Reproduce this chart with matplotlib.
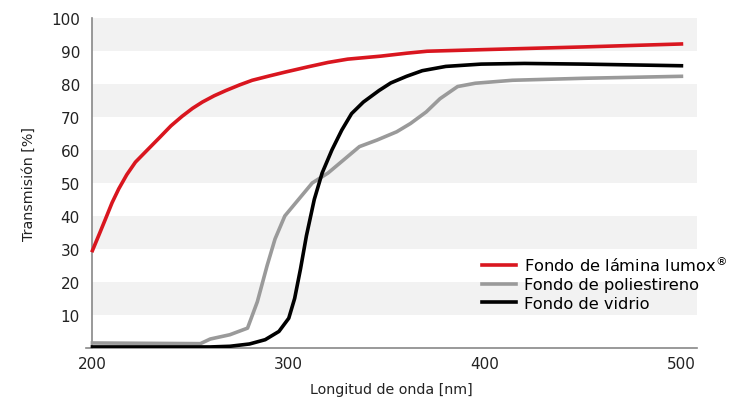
import matplotlib
matplotlib.use("Agg")
import matplotlib.pyplot as plt

# wavelength [nm] / transmission [%]
red_x = [200, 203.5, 206.6, 210, 213.4, 217.5, 221.9, 228, 233.8, 240, 245.7, 251,
         256, 262, 268, 275, 281.4, 290, 298.3, 310, 320, 330, 346.7, 360, 370.5,
         400, 450, 500]
red_y = [29.5, 34.5, 39, 44, 48.2, 52.5, 56.3, 60, 63.5, 67.3, 70.2, 72.6,
         74.5, 76.4, 78, 79.7, 81.1, 82.4, 83.6, 85.2, 86.5, 87.5, 88.4, 89.3, 89.9,
         90.4, 91.2, 92.1]

grey_x = [200, 255, 260, 270, 279, 284, 289, 293, 298, 305, 312, 320, 328, 336,
          345, 355, 362, 370, 377, 386, 395, 414, 450, 500]
grey_y = [1.5, 1.3, 2.7, 4, 6, 14, 25, 33, 40, 45, 50, 53, 57, 61,
          63, 65.5, 68, 71.5, 75.5, 79.2, 80.2, 81.1, 81.7, 82.3]

black_x = [200, 260, 270, 280, 288, 295, 300, 303, 306, 309, 313, 317, 322, 327,
           332, 338, 346, 352, 360, 368, 380, 398, 420, 450, 500]
black_y = [0.3, 0.3, 0.5, 1.2, 2.5, 5, 9, 15, 24, 34, 45, 53, 60, 66,
           71, 74.5, 78, 80.3, 82.3, 84, 85.3, 86, 86.2, 86, 85.5]

labels = [r"Fondo de lámina lumox$^{\mathregular{®}}$", "Fondo de poliestireno",
          "Fondo de vidrio"]
y_ticks = [10, 20, 30, 40, 50, 60, 70, 80, 90, 100]
x_ticks = [200, 300, 400, 500]

fig = plt.figure(figsize=(7.44, 4.02), dpi=100)
ax = fig.add_axes([0.115, 0.132, 0.822, 0.821])

x_lo, x_hi = 196.5, 508

# alternating light bands
for lo in range(10, 100, 20):
    ax.barh(lo, x_hi - 200, left=200, height=10, align="edge",
            color="#f2f2f2", zorder=0)

ax.plot(red_x, red_y, color="#d9161f", lw=2.6, label=labels[0], zorder=3)
ax.plot(grey_x, grey_y, color="#9a9a9a", lw=2.6, label=labels[1], zorder=3)
ax.plot(black_x, black_y, color="black", lw=2.6, label=labels[2], zorder=3)

ax.set_xlim(x_lo, x_hi)
ax.set_ylim(0, 100)
ax.set_xticks(x_ticks)
ax.set_yticks(y_ticks)
ax.tick_params(length=0, labelsize=11, colors="#222222", pad=6)
ax.tick_params(axis="y", pad=9)

for s in ["top", "right"]:
    ax.spines[s].set_visible(False)
ax.spines["left"].set_position(("data", 200))
ax.spines["left"].set_color("#888888")
ax.spines["bottom"].set_color("#888888")
ax.spines["left"].set_linewidth(1.2)
ax.spines["bottom"].set_linewidth(1.2)

ax.set_xlabel("Longitud de onda [nm]", fontsize=10.3, color="#222222", labelpad=8)
ax.set_ylabel("Transmisión [%]", fontsize=10.3, color="#222222", labelpad=11)

ax.legend(loc="lower left", bbox_to_anchor=(0.648, 0.225),
          bbox_transform=fig.transFigure, frameon=False,
          fontsize=11.7, handlelength=2.1, handletextpad=0.45, labelspacing=0.2,
          borderaxespad=0, borderpad=0)

fig.savefig("out.png", dpi=100)
